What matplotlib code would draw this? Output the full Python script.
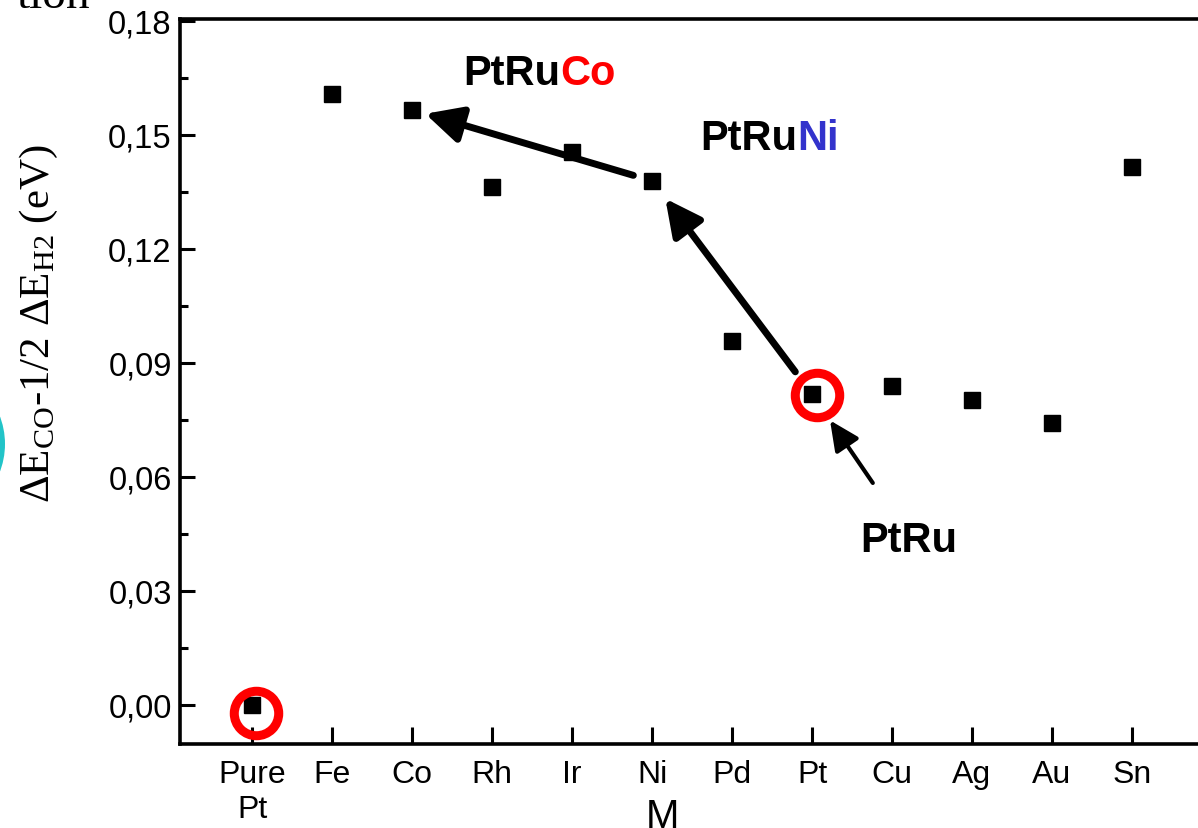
import matplotlib
matplotlib.use("Agg")
import matplotlib.pyplot as plt
import matplotlib.patches as mpatches
from matplotlib.ticker import FuncFormatter, MultipleLocator
from matplotlib.transforms import offset_copy

plt.rcParams['font.family'] = ['Liberation Sans', 'DejaVu Sans']
plt.rcParams['mathtext.fontset'] = 'custom'
plt.rcParams['mathtext.rm'] = 'Liberation Serif'
plt.rcParams['mathtext.it'] = 'Liberation Serif:italic'

# dopant metal M in PtRuM and the CO / H2 adsorption energy difference
metals = ['Pure\nPt', 'Fe', 'Co', 'Rh', 'Ir', 'Ni', 'Pd', 'Pt', 'Cu', 'Ag', 'Au', 'Sn']
delta_e = [0.000, 0.1608, 0.1566, 0.1363, 0.1455, 0.1379, 0.0958, 0.0818, 0.0839, 0.0803, 0.0742, 0.1416]
circled = ['Pure\nPt', 'Pt']

W, H = 1198, 829
fig = plt.figure(figsize=(W / 100, H / 100), dpi=100)
ax = fig.add_axes([180 / W, 1 - 745 / H, 1 - 180 / W, (745 - 20) / H])

x = list(range(len(metals)))
ax.plot(x, delta_e, 's', color='black', markersize=12, zorder=3)

# red rings, slightly off-centre around the reference points
ring_shift = {'Pure\nPt': (4, -8), 'Pt': (5, -1)}
for name in circled:
    i = metals.index(name)
    dx, dy = ring_shift[name]
    tr = offset_copy(ax.transData, fig=fig, x=dx, y=dy, units='dots')
    ax.plot([x[i]], [delta_e[i]], 'o', markersize=32, markerfacecolor='none',
            markeredgecolor='#ff0000', markeredgewidth=6.5, transform=tr, zorder=4)

ax.set_xlim(-0.9, (W - 252) / 80)
ax.set_ylim(-0.0103, 0.1805)

ax.set_xticks(x)
ax.set_xticklabels(metals)
ax.yaxis.set_major_locator(MultipleLocator(0.03))
ax.yaxis.set_minor_locator(MultipleLocator(0.015))
ax.yaxis.set_major_formatter(FuncFormatter(lambda v, p: f"{v:.2f}".replace('.', ',')))

ax.tick_params(axis='x', direction='in', length=12, width=2.2, pad=11, labelsize=23)
ax.tick_params(axis='y', which='major', direction='in', length=11, width=2.2, pad=6, labelsize=23.5)
ax.tick_params(axis='y', which='minor', direction='in', length=6, width=2.2)
for s in ['left', 'bottom', 'top']:
    ax.spines[s].set_linewidth(2.6)
ax.spines['right'].set_visible(False)

ax.set_xlabel('M', fontsize=29)
ax.xaxis.set_label_coords((662 - 180) / (W - 180), (745 - 798) / 725)
ax.set_ylabel(r'ΔE$_{\rm CO}$-1/2 ΔE$_{\rm H2}$ (eV)', fontsize=31,
              family=['Liberation Serif', 'DejaVu Serif'])
ax.yaxis.set_label_coords((60 - 180) / (W - 180), (745 - 324) / 725)

# arrows PtRu -> PtRuNi -> PtRuCo
iCo, iNi, iPt = metals.index('Co'), metals.index('Ni'), metals.index('Pt')
big = dict(arrowstyle='-|>,head_length=22,head_width=11', mutation_scale=1,
           lw=5, color='black')
ax.annotate('', xy=(x[iCo], delta_e[iCo]), xytext=(x[iNi], delta_e[iNi]),
            arrowprops=dict(big, shrinkA=14, shrinkB=10))
ax.annotate('', xy=(x[iNi], delta_e[iNi]), xytext=(x[iPt], delta_e[iPt]),
            arrowprops=dict(big, shrinkA=20, shrinkB=16))
ax.annotate('', xy=(x[iPt], delta_e[iPt]), xytext=(7.76, 0.0584),
            arrowprops=dict(arrowstyle='-|>,head_length=18,head_width=8.5',
                            mutation_scale=1, lw=3, color='black',
                            shrinkA=0, shrinkB=23))

lab = dict(fontsize=30, fontweight='bold', va='baseline')
ax.text(3.85, 0.1634, 'PtRu', ha='right', color='black', **lab)
ax.text(3.85, 0.1634, 'Co', ha='left', color='#ff0000', **lab)
ax.text(6.81, 0.1463, 'PtRu', ha='right', color='black', **lab)
ax.text(6.81, 0.1463, 'Ni', ha='left', color='#3333cc', **lab)
ax.text(7.6, 0.0405, 'PtRu', ha='left', color='black', **lab)

# slide leftovers at the edges
fig.text(90 / W, 1 - 8 / H, 'tion', ha='right', va='baseline', fontsize=34,
         family=['Liberation Serif', 'DejaVu Serif'])
fig.patches.append(mpatches.Circle((-73, 829 - 445), 78, transform=None,
                                   facecolor='#22c4c8', edgecolor='none'))

fig.savefig('out.png', dpi=100)
